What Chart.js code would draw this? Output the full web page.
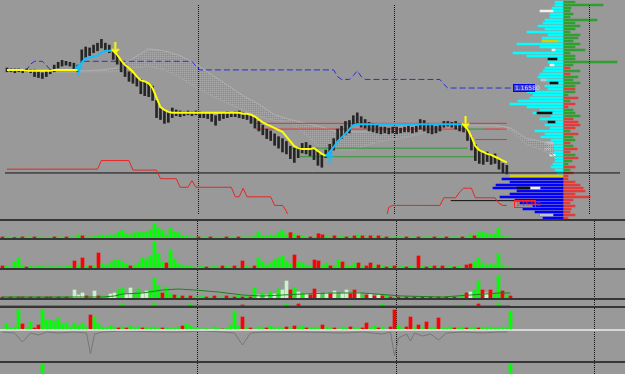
<!DOCTYPE html>
<html>
<head>
<meta charset="utf-8">
<script src="https://cdn.jsdelivr.net/npm/chart.js@4.4.1/dist/chart.umd.min.js"></script>
<style>
  html, body { margin: 0; padding: 0; background: #999; }
  #wrap { position: relative; width: 625px; height: 374px; background: #999999; overflow: hidden; }
  #wrap canvas { position: absolute; left: 0; }
  .sep { position: absolute; left: 0; width: 625px; height: 2px; background: #363636; }
</style>
</head>
<body>
<div id="wrap">
  <canvas id="profile" width="155" height="220" style="left:470px; top:0px"></canvas>
  <canvas id="main" width="625" height="219" style="top:0px"></canvas>
  <div class="sep" style="top:219px"></div>
  <canvas id="vol1" width="625" height="17" style="top:221px"></canvas>
  <div class="sep" style="top:238px"></div>
  <canvas id="vol2" width="625" height="28" style="top:240px"></canvas>
  <div class="sep" style="top:268px"></div>
  <canvas id="vol3" width="625" height="28" style="top:270px"></canvas>
  <div class="sep" style="top:298px"></div>
  <canvas id="vol4" width="625" height="6" style="top:300px"></canvas>
  <div class="sep" style="top:306px"></div>
  <canvas id="osc" width="625" height="53" style="top:308px"></canvas>
  <div class="sep" style="top:361px"></div>
  <canvas id="spikes" width="625" height="11" style="top:363px"></canvas>
</div>
<script>
    // ---- price data, one entry per bar ----
    const highs = [1.1679,1.1678,1.1678,1.1678,1.1677,1.1678,1.1677,1.1677,1.1675,1.1674,
        1.1676,1.1677,1.1682,1.1685,1.1687,1.1686,1.1685,1.1684,1.1682,1.1698,
        1.1701,1.1700,1.1703,1.1705,1.1709,1.1705,1.1703,1.1698,1.1693,1.1687,
        1.1683,1.1675,1.1673,1.1670,1.1667,1.1665,1.1662,1.1660,1.1645,1.1637,
        1.1635,1.1633,1.1637,1.1635,1.1634,1.1633,1.1634,1.1633,1.1634,1.1633,
        1.1632,1.1631,1.1631,1.1629,1.1631,1.1632,1.1633,1.1632,1.1633,1.1634,
        1.1632,1.1631,1.1629,1.1627,1.1623,1.1619,1.1615,1.1613,1.1610,1.1607,
        1.1605,1.1602,1.1597,1.1595,1.1596,1.1600,1.1601,1.1598,1.1595,1.1591,
        1.1588,1.1593,1.1599,1.1605,1.1615,1.1618,1.1623,1.1624,1.1629,1.1632,
        1.1628,1.1625,1.1622,1.1621,1.1619,1.1617,1.1617,1.1616,1.1617,1.1617,
        1.1616,1.1617,1.1618,1.1617,1.1618,1.1625,1.1624,1.1621,1.1619,1.1618,
        1.1620,1.1623,1.1623,1.1622,1.1623,1.1621,1.1619,1.1615,1.1607,1.1599,
        1.1593,1.1590,1.1591,1.1588,1.1589,1.1583,1.1579,1.1577];
    const lows = [1.1675,1.1675,1.1674,1.1675,1.1674,1.1675,1.1674,1.1670,1.1669,1.1668,
        1.1670,1.1673,1.1675,1.1679,1.1681,1.1682,1.1681,1.1678,1.1675,1.1685,
        1.1690,1.1692,1.1695,1.1697,1.1700,1.1697,1.1695,1.1688,1.1683,1.1675,
        1.1670,1.1665,1.1663,1.1660,1.1652,1.1650,1.1649,1.1645,1.1627,1.1625,
        1.1621,1.1622,1.1627,1.1629,1.1628,1.1629,1.1630,1.1629,1.1630,1.1627,
        1.1627,1.1626,1.1623,1.1619,1.1624,1.1626,1.1627,1.1628,1.1628,1.1627,
        1.1626,1.1625,1.1621,1.1616,1.1613,1.1609,1.1605,1.1603,1.1598,1.1595,
        1.1591,1.1589,1.1584,1.1580,1.1585,1.1590,1.1589,1.1587,1.1583,1.1577,
        1.1575,1.1585,1.1588,1.1593,1.1602,1.1605,1.1609,1.1611,1.1619,1.1621,
        1.1617,1.1616,1.1613,1.1612,1.1611,1.1610,1.1611,1.1610,1.1611,1.1610,
        1.1611,1.1612,1.1612,1.1611,1.1612,1.1615,1.1613,1.1611,1.1610,1.1611,
        1.1613,1.1617,1.1618,1.1617,1.1615,1.1613,1.1612,1.1603,1.1593,1.1582,
        1.1579,1.1578,1.1581,1.1578,1.1579,1.1573,1.1569,1.1568];

    // trend line (yellow = down, cyan = up)
    const trendLine = [1.1677,1.1677,1.1677,1.1677,1.1677,
        1.1676,1.1676,1.1676,1.1676,1.1676,1.1676,1.1676,
        1.1677,1.1677,1.1677,1.1677,1.1677,1.1677,1.1677,
        1.1685,1.1689,1.1690,1.1691,1.1692,1.1695,1.1697,1.1697,1.1697,
        1.1693,1.1687,1.1682,1.1679,1.1675,1.1670,1.1666,1.1665,1.1663,1.1658,1.1648,1.1638,1.1635,1.1633,
        1.1632,1.1632,1.1632,1.1632,1.1632,1.1632,1.1632,1.1632,1.1632,1.1632,1.1632,1.1632,1.1632,1.1632,1.1632,1.1632,1.1632,1.1632,
        1.1631,1.1631,1.1630,1.1628,1.1625,1.1622,1.1620,1.1618,1.1616,1.1614,1.1612,1.1607,1.1602,1.1597,1.1595,1.1594,1.1594,1.1594,1.1595,1.1592,1.1589,1.1587,
        1.1591,1.1596,1.1602,1.1606,1.1610,1.1615,1.1619,
        1.1620,1.1620,1.1620,1.1620,1.1620,1.1620,1.1620,1.1620,1.1620,1.1620,1.1620,1.1620,1.1620,1.1620,
        1.1620,1.1620,1.1620,1.1620,1.1620,1.1620,1.1620,1.1620,1.1620,1.1620,1.1620,1.1620,1.1620,1.1620,
        1.1615,1.1607,1.1597,1.1593,1.1591,1.1589,1.1588,1.1586,1.1584,1.1582,1.1580];
    const trendUpFrom = [18, 81];
    const trendUpTo = [27, 116];

    const arrowUpBars = [18.25, 82];
    const arrowUpPrice = [1.1677, 1.1585];
    const arrowDownBars = [27.5, 116.5];
    const arrowDownPrice = [1.1700, 1.1622];

    // blue dashed level line
    const blueLine = [1.1677,1.1677,1.1677,1.1677,1.1677,1.1677,1.1683,1.1686,1.1686,1.1686,
        1.1682,1.1677,1.1677,1.1677,1.1677,1.1677,1.1677,1.1677,1.1677,
        1.1686,1.1686,1.1686,1.1686,1.1686,1.1686,1.1686,1.1686,1.1686,1.1686,
        1.1686,1.1686,1.1686,1.1686,1.1686,1.1686,1.1686,1.1686,1.1686,1.1686,
        1.1686,1.1686,1.1686,1.1686,1.1686,1.1686,1.1686,1.1686,1.1686,
        1.1681,
        1.1677,1.1677,1.1677,1.1677,1.1677,1.1677,1.1677,1.1677,1.1677,1.1677,
        1.1677,1.1677,1.1677,1.1677,1.1677,1.1677,1.1677,1.1677,1.1677,1.1677,
        1.1677,1.1677,1.1677,1.1677,1.1677,1.1677,1.1677,1.1677,1.1677,1.1677,
        1.1677,1.1677,1.1677,1.1677,1.1677,
        1.1670,1.1667,1.1667,1.1667,1.1671,1.1676,1.1670,
        1.1667,1.1667,1.1667,1.1667,1.1667,1.1667,1.1667,1.1667,1.1667,1.1667,
        1.1667,1.1667,1.1667,1.1667,1.1667,1.1667,1.1667,1.1667,1.1667,1.1667,
        1.1662,
        1.1658,1.1658,1.1658,1.1658,1.1658,1.1658,1.1658,1.1658,1.1658,1.1658,
        1.1658,1.1658,1.1658,1.1658,1.1658,1.1658,1.1658];

    // cloud (shifted forward past the last bar)
    const cloudBars = [0,16,20,24,28,32,36,40,44,48,52,56,60,64,68,72,76,80,84,88,92,96,100,104,108,112,116,120,124,128,132,136,139];
    const cloudTop = [1.1676,1.1676,1.1676,1.1677,1.1679,1.1689,1.1699,1.1697,1.1692,1.1683,1.1672,1.1661,1.1650,1.1641,1.1630,1.1625,
        1.1621,1.1617,1.1612,1.1612,1.1612,1.1612,1.1617,1.1618,1.1618,1.1618,1.1619,1.1619,1.1619,1.1616,1.1605,1.1602,1.1598];
    const cloudBottom = [1.1674,1.1674,1.1675,1.1675,1.1675,1.1679,1.1681,1.1677,1.1669,1.1659,1.1650,1.1642,1.1635,1.1628,1.1624,1.1622,
        1.1609,1.1595,1.1593,1.1593,1.1599,1.1603,1.1605,1.1609,1.1614,1.1616,1.1617,1.1617,1.1617,1.1614,1.1599,1.1593,1.1587];

    // stepped red line under price
    const redStep = [1.1573,1.1573,1.1573,1.1573,1.1573,1.1573,1.1573,1.1573,1.1573,1.1573,1.1573,1.1573,
        1.1573,1.1573,1.1573,1.1573,1.1573,1.1573,1.1573,1.1573,1.1573,1.1573,1.1573,1.1573,
        1.1582,1.1582,1.1582,1.1582,1.1582,1.1582,1.1582,1.1582,
        1.1572,1.1572,1.1572,1.1572,1.1572,1.1572,1.1572,
        1.1563,1.1563,1.1563,1.1563,1.1563,
        1.1554,1.1554,1.1554,1.1561,
        1.1554,1.1554,1.1554,1.1554,1.1554,1.1554,1.1554,1.1554,1.1554,1.1554,
        1.1544,1.1544,1.1553,1.1544,1.1544,1.1544,1.1544,1.1544,1.1544,1.1544,
        1.1535,1.1535,1.1535,1.1529,
        1.1515,1.1515,1.1515,1.1515,1.1515,1.1515,1.1515,1.1515,1.1515,1.1515,1.1515,1.1515,1.1515,
        1.1515,1.1515,1.1515,1.1515,1.1515,1.1515,1.1515,1.1515,1.1515,1.1515,1.1515,1.1515,
        1.1533,
        1.1535,1.1535,1.1535,1.1535,1.1535,1.1535,1.1535,1.1535,1.1535,1.1535,1.1535,1.1535,1.1535,
        1.1543,1.1543,1.1543,1.1543,1.1549,1.1553,1.1553,1.1553,
        1.1543,1.1543,1.1543,1.1543,1.1543,1.1543,1.1537,1.1535,1.1535];

    // horizontal levels: price, from bar, to bar, colour code
    const levelPrice = [1.1621, 1.1615, 1.1615, 1.1615, 1.1604, 1.1595, 1.1586, 1.1569, 1.1540];
    const levelFrom  = [63.75, 63.75, 117.5, 121.75, 119.5, 72.5, 75, 0, 113.25];
    const levelTo    = [127.5, 117.5, 121.75, 127.5, 127.5, 117.5, 119.25, 156.25, 135];
    const levelCodes = 'rrgrrggkk';

    const tagBars = [129, 129.25];
    const tagPrices = [1.1658, 1.1536];

    // day separators (bar position)
    const sessionBreaks = [49.25, 99, 148.5];

    // ---- sub window histograms ----
    const vol1 = [1,1,1,0.5,1,1,1,1,1,1, 1,0.5,1,1,1,1,1,1,1,3, 2,1,1,2,2,3,2,3,3,6, 7,4,3,5,6,5,6,8,14,9,
        7,3,10,6,5,2,2,1,1,1, 1,1,1,1,0.5,1,1,1,1,1, 1,1,1,2,6,2,2,3,2,5, 7,3,5,4,2,2,1,1,1,4,
        3,2,1,2,1,2,1,1,2,3, 2,1,2,1,2,1,1,1,1,1, 1,1,1,1,1,1,1,1,1,1, 1,1,1,1,1,1,1,3,2,5, 6,4,3,4,9,2,1,1];
    const vol1Codes = 'rggrgrggrg' + 'gggrggrggg' + 'rggggggggg' + 'gggggggggg' + 'gggggggggr' + 'ggrgggrggr' +
        'gggggggggg' + 'ggrgrggrgr' + 'rggrggrgrg' + 'rgrgrgrggg' + 'grggrgggrg' + 'grgggrggrg' + 'gggggggg';

    const vol2 = [2,2,1,6,10,3,1,2,1,2, 2,1,2,1,2,1,2,2,7,3, 10,2,2,2,15,4,3,5,8,8, 6,4,2,3,5,10,9,12,26,14,
        6,5,18,9,4,3,2,2,1,1, 2,1,1,2,1,2,2,1,2,1, 7,2,1,2,10,6,3,5,8,10, 12,7,4,13,6,5,3,2,8,7,
        3,5,2,2,8,6,3,2,5,5, 2,2,5,2,3,2,1,2,2,1, 2,1,2,1,12,2,1,2,2,1, 2,1,2,1,2,1,3,4,6,10, 5,3,4,3,14,3,1,1];
    const vol2Codes = 'rgggggrggg' + 'ggggggggrg' + 'rgrgrggggg' + 'ggrggggggg' + 'grgggggggg' + 'grgggrggrg' +
        'rggrgggggg' + 'gggrggggrr' + 'ggrggrgggr' + 'grrgrgrgrg' + 'grggrgrgrg' + 'rggrggrrgg' + 'gggggggg';

    const vol3 = [1,1,1,1,1,1,1,1,1,1, 1,1,1,1,1,1,1,1,8,3, 5,2,1,7,2,2,1,4,5,8, 10,4,10,4,9,5,7,8,20,12,
        5,11,4,3,2,2,1,2,1,1, 2,1,1,2,1,1,2,1,1,2, 1,2,1,10,3,5,3,6,4,9, 8,17,8,10,6,5,4,3,9,5,
        3,5,4,7,3,5,8,4,8,5, 3,3,4,2,3,2,2,1,1,1, 1,1,1,1,1,1,1,1,1,1, 1,1,1,1,1,3,5,6,8,17, 8,5,8,4,22,7,3,2];
    const vol3Codes = 'rgrgrrgrgr' + 'grrgrgrgpp' + 'prgprggppg' + 'gppggppggg' + 'rggrgrgrgg' + 'grgrggrgrg' +
        'rgrgpgpgpg' + 'pprgpgprrp' + 'gprpgpprrp' + 'grprprgrgr' + 'grgrgrgrgr' + 'grgrggrpgg' + 'rprggrgr';
    const vol3AvgBars = [0, 25, 28, 30, 35, 40, 44, 48, 54, 60, 65, 70, 75, 82, 90, 100, 110, 117, 124, 127];
    const vol3Avg = [1, 1, 2, 4, 5, 8, 9, 8, 6, 3, 2, 3, 4, 5, 5, 2, 1, 3, 5, 5];

    const vol4Bars = [30, 38, 47, 60, 71, 74, 87, 95, 114, 119, 124];
    const vol4 = [2, 3, 2, 1, 2, 2, 1, 2, 1, 2, 3];
    const vol4Codes = 'gggrgrgggrg';

    const osc = [1,6,2,3,20,6,2,8,2,5, 20,10,10,9,12,6,7,3,7,4, 7,3,15,13,6,3,2,4,3,2, 3,2,4,2,3,2,3,2,3,2,
        2,2,2,2,3,4,6,4,2,2, 1,2,1,3,2,1,2,5,19,4, 13,3,2,1,3,2,2,4,2,3, 2,3,2,4,3,4,2,2,3,2,
        5,3,2,2,1,3,2,3,2,2, 2,7,2,4,2,3,1,3,20,4, 2,3,13,3,5,3,8,2,3,12, 2,2,3,2,2,3,2,2,3,2, 3,2,3,2,2,3,2,19];
    const oscCodes = 'gggggrggrr' + 'gggggggggg' + 'ggrggggggr' + 'grgggrgggg' + 'rggggrgggg' + 'gggggrgggg' +
        'rgrgggrggg' + 'grgrggrggg' + 'rggrgggrgg' + 'rrggrggrrg' + 'grrgrgrggr' + 'gggrggrggr' + 'gggggggg';
    const oscLineBars = [0,3,5,7,9,11,14,18,21,22,23,25,30,40,45,50,55,58,60,62,65,75,85,90,95,97,98,99,101,102,103,105,107,109,111,115,120,124,126,127];
    const oscLine = [-2,-3,-12,-3,-5,-2,-3,-2,-3,-24,-4,-2,-1,-2,-2,-1,-2,-3,-15,-3,-2,-2,-3,-2,-4,-2,-26,-8,-4,-11,-3,-6,-4,-10,-3,-2,-3,-2,-2,2];

    const spikeBars = [10, 127];
    const spikes = [11, 11];

    // ---- volume profile on the right ----
    const profLevels = [1.1743,1.1740,1.1737,1.1734,1.1731,1.1728,1.1725,1.1722,1.1719,1.1716,
        1.1713,1.1710,1.1707,1.1704,1.1701,1.1698,1.1695,1.1692,1.1689,1.1686,
        1.1683,1.1680,1.1677,1.1674,1.1671,1.1668,1.1665,1.1662,1.1659,1.1656,
        1.1653,1.1650,1.1647,1.1644,1.1641,1.1638,1.1635,1.1632,1.1629,1.1626,
        1.1623,1.1620,1.1617,1.1614,1.1611,1.1608,1.1605,1.1602,1.1599,1.1596,
        1.1593,1.1590,1.1587,1.1584,1.1581,1.1578,1.1575,1.1572,1.1569,1.1566,
        1.1563,1.1560,1.1557,1.1554,1.1551,1.1548,1.1545,1.1542,1.1539,1.1536,
        1.1533,1.1530,1.1527];
    const profLeft = [8,8,11,10,13,13,18,20,25,18, 36,15,21,21,46,23,11,50,36,15, 15,13,18,20,23,25,22,13,18,15,
        36,30,33,45,53,36,23,30,12,23, 15,18,13,28,18,22,12,18,15,18, 13,13,8,8,10,12,8,6,53,61,
        53,67,70,46,53,63,48,43,30,40, 28,23,20];
    const profLeftCodes = 'cccccccccc' + 'cccccccccc' + 'cccccccccc' + 'cccccccccc' + 'cccccccccc' + 'cccccccc' + 'y' + 'bbbbbbbbbbbbbb';
    const profRight = [12,40,8,7,10,7,34,12,17,12, 7,17,15,10,17,12,22,7,12,12, 54,10,7,17,7,15,10,17,12,12,
        12,5,15,7,12,5,10,12,17,10, 15,17,12,7,15,10,12,7,10,14, 7,12,15,9,5,12,7,10,5,5,
        12,17,20,22,12,27,10,7,12,8, 7,12,5];
    const profRightCodes = 'gggggggggg' + 'gggggggggg' + 'ggrgrggggr' + 'ggrgrrgggr' + 'rrrgrggrgr' + 'rgrggrgrrr' + 'rrrrrrrrrr' + 'rrr';
    const profAccentRows = [3, 13, 16, 19, 21, 26, 27, 37, 40, 47, 49, 51, 62, 62, 71];
    const profAccentFrom = [10, 5, 8, 6, 9, 17, 5, 11, 8, 10, 12, 8, 33, 23, 10];
    const profAccentTo   = [23, 21, 11, 15, 13, 22, 13, 26, 15, 18, 18, 13, 46, 33, 23];
    const profAccentCodes = 'wywkwekkkeewkwe';

    // ---- styles ----
    const histColors = { g: '#00ff00', r: '#ff0000', p: '#c8f5c8' };
    const levelColors = { r: '#e83030', g: '#2e9a2e', k: '#111111' };
    const profColors = { c: '#00ffff', y: '#d8d000', b: '#0000ff', g: '#2f9f2f', r: '#e03c3c',
        w: '#f0f0f0', e: '#c4c4c4', k: '#101010' };

    const X_MIN = 0, X_MAX = 156.25;
    const P_MIN = 1.1526, P_MAX = 1.1745;

    const sessionLines = {
        id: 'sessionLines',
        beforeDatasetsDraw(chart) {
            const {ctx, chartArea, scales: {x}} = chart;
            ctx.save();
            ctx.strokeStyle = '#111';
            ctx.lineWidth = 1;
            ctx.setLineDash([1, 1]);
            sessionBreaks.forEach(b => {
                const px = Math.floor(x.getPixelForValue(b)) + 0.5;
                ctx.beginPath();
                ctx.moveTo(px, chartArea.top);
                ctx.lineTo(px, chartArea.bottom);
                ctx.stroke();
            });
            ctx.restore();
        }
    };

    const priceTags = {
        id: 'priceTags',
        afterDatasetsDraw(chart) {
            const {ctx, scales: {x, y}} = chart;
            const fills = ['#3c3cd8', 'rgba(0,0,0,0)'];
            const borders = ['#0000ff', '#ff2020'];
            const inks = ['#dcdcff', '#ff2020'];
            ctx.save();
            ctx.font = '6px "DejaVu Sans"';
            ctx.textBaseline = 'middle';
            tagBars.forEach((b, j) => {
                const left = Math.round(x.getPixelForValue(b)) + 0.5;
                const mid = Math.round(y.getPixelForValue(tagPrices[j]));
                ctx.fillStyle = fills[j];
                ctx.fillRect(left, mid - 3.5, 21, 7);
                ctx.strokeStyle = borders[j];
                ctx.strokeRect(left, mid - 3.5, 21, 7);
                ctx.fillStyle = inks[j];
                ctx.fillText(tagPrices[j].toFixed(5), left + 1.5, mid);
            });
            ctx.restore();
        }
    };

    // shift lets 3px histogram bars land on whole pixels
    function baseOptions(yMin, yMax, shift) {
        const s = shift || 0;
        return {
            responsive: false,
            animation: false,
            layout: { padding: 0 },
            plugins: { legend: { display: false }, tooltip: { enabled: false } },
            scales: {
                x: { type: 'linear', min: X_MIN - s, max: X_MAX - s, display: false, offset: false },
                y: { type: 'linear', min: yMin, max: yMax, display: false }
            }
        };
    }

    function arrowImage(color, up) {
        const c = document.createElement('canvas');
        c.width = 9; c.height = 12;
        const g = c.getContext('2d');
        g.strokeStyle = color;
        g.lineWidth = 2;
        g.beginPath();
        if (up) {
            g.moveTo(4.5, 1); g.lineTo(4.5, 12);
            g.moveTo(1, 5); g.lineTo(4.5, 1.5); g.lineTo(8, 5);
        } else {
            g.moveTo(4.5, 0); g.lineTo(4.5, 11);
            g.moveTo(1, 7); g.lineTo(4.5, 10.5); g.lineTo(8, 7);
        }
        g.stroke();
        return c;
    }

    function cloudPattern() {
        const c = document.createElement('canvas');
        c.width = 2; c.height = 2;
        const g = c.getContext('2d');
        g.fillStyle = '#a9a9a9'; g.fillRect(0, 0, 1, 1);
        g.fillStyle = '#8e8e8e'; g.fillRect(1, 1, 1, 1);
        return g.createPattern(c, 'repeat');
    }

    // ---- main price window ----
    const inUp = i => trendUpFrom.some((f, j) => i >= f && i <= trendUpTo[j]);
    const onEdge = i => trendUpFrom.includes(i) || trendUpTo.includes(i);

    const mainSets = [
        { type: 'line', order: 10, data: cloudBars.map((b, k) => ({x: b + 0.5, y: cloudTop[k]})),
          borderColor: '#b0b0b0', borderWidth: 1, pointRadius: 0 },
        { type: 'line', order: 10, data: cloudBars.map((b, k) => ({x: b + 0.5, y: cloudBottom[k]})),
          borderColor: '#a4a4a4', borderWidth: 1, pointRadius: 0, fill: '-1', backgroundColor: cloudPattern() },
        { type: 'line', order: 7, data: blueLine.map((v, i) => ({x: i + 0.5, y: v})),
          borderColor: '#2b2bd8', borderWidth: 1, borderDash: [6, 3], pointRadius: 0 },
        { type: 'line', order: 6, data: redStep.map((v, i) => ({x: i + 0.5, y: v})),
          borderColor: '#e52525', borderWidth: 1, pointRadius: 0 },
        { type: 'bar', order: 5, data: highs.map((h, i) => ({x: i + 0.5, y: [lows[i], h]})),
          backgroundColor: '#262626', barThickness: 2, grouped: false },
        { type: 'line', order: 3, data: trendLine.map((v, i) => ({x: i + 0.5, y: (!inUp(i) || onEdge(i)) ? v : null})),
          borderColor: '#ffff00', borderWidth: 2, pointRadius: 0 },
        { type: 'line', order: 3, data: trendLine.map((v, i) => ({x: i + 0.5, y: inUp(i) ? v : null})),
          borderColor: '#10c0ff', borderWidth: 2, pointRadius: 0 },
        { type: 'line', order: 1, showLine: false, data: arrowUpBars.map((b, k) => ({x: b + 0.5, y: arrowUpPrice[k]})),
          pointStyle: arrowImage('#10c0ff', true) },
        { type: 'line', order: 1, showLine: false, data: arrowDownBars.map((b, k) => ({x: b + 0.5, y: arrowDownPrice[k]})),
          pointStyle: arrowImage('#ffff00', false) }
    ];
    levelPrice.forEach((p, j) => {
        mainSets.push({ type: 'line', order: 8, data: [{x: levelFrom[j], y: p}, {x: levelTo[j], y: p}],
            borderColor: levelColors[levelCodes[j]], borderWidth: 1, pointRadius: 0 });
    });

    new Chart(document.getElementById('main'), {
        type: 'bar',
        data: { datasets: mainSets },
        options: baseOptions(P_MIN, P_MAX),
        plugins: [sessionLines, priceTags]
    });

    // ---- profile overlay (horizontal bars, one row per price level) ----
    const profLabels = profLevels.map(p => p.toFixed(4));
    const profSets = [
        { data: profLeft.map(v => -v), backgroundColor: profLeftCodes.split('').map(c => profColors[c]),
          barThickness: 2, grouped: false, order: 3 },
        { data: profRight, backgroundColor: profRightCodes.split('').map(c => profColors[c]),
          barThickness: 2, grouped: false, order: 3 }
    ];
    profAccentRows.forEach((r, j) => {
        const row = profLabels.map(() => null);
        row[r] = [-profAccentTo[j], -profAccentFrom[j]];
        profSets.push({ data: row, backgroundColor: profColors[profAccentCodes[j]],
            barThickness: 2, grouped: false, order: 1 });
    });

    new Chart(document.getElementById('profile'), {
        type: 'bar',
        data: { labels: profLabels, datasets: profSets },
        options: {
            indexAxis: 'y',
            responsive: false,
            animation: false,
            layout: { padding: { top: 0.5, bottom: 0.5, left: 0, right: 0 } },
            plugins: { legend: { display: false }, tooltip: { enabled: false } },
            scales: {
                x: { type: 'linear', min: -93, max: 62, display: false },
                y: { type: 'category', display: false, offset: true }
            }
        }
    });

    // ---- histogram windows ----
    function histSet(bars, vols, codes, order) {
        return { type: 'bar', order: order, data: vols.map((v, k) => ({x: bars[k] + 0.5, y: v})),
            backgroundColor: codes.split('').map(c => histColors[c]), barThickness: 3, grouped: false };
    }
    const allBars = highs.map((h, i) => i);
    const HALF_PX = 0.125;

    new Chart(document.getElementById('vol1'), {
        type: 'bar',
        data: { datasets: [histSet(allBars, vol1, vol1Codes, 2)] },
        options: baseOptions(0, 16, HALF_PX),
        plugins: [sessionLines]
    });

    new Chart(document.getElementById('vol2'), {
        type: 'bar',
        data: { datasets: [histSet(allBars, vol2, vol2Codes, 2)] },
        options: baseOptions(0, 28, HALF_PX),
        plugins: [sessionLines]
    });

    new Chart(document.getElementById('vol3'), {
        type: 'bar',
        data: { datasets: [
            { type: 'line', order: 1, data: vol3AvgBars.map((b, k) => ({x: b + 0.5, y: vol3Avg[k]})),
              borderColor: '#1f7f1f', borderWidth: 1, pointRadius: 0 },
            histSet(allBars, vol3, vol3Codes, 2)
        ]},
        options: baseOptions(0, 28, HALF_PX),
        plugins: [sessionLines]
    });

    new Chart(document.getElementById('vol4'), {
        type: 'bar',
        data: { datasets: [
            { type: 'line', order: 1, data: [{x: 0, y: 0.5}, {x: 127.5, y: 0.5}],
              borderColor: '#ff0000', borderWidth: 1, borderDash: [1, 1], pointRadius: 0 },
            histSet(vol4Bars, vol4, vol4Codes, 2)
        ]},
        options: baseOptions(0, 6, HALF_PX),
        plugins: [sessionLines]
    });

    new Chart(document.getElementById('osc'), {
        type: 'bar',
        data: { datasets: [
            { type: 'line', order: 1, data: [{x: X_MIN - 1, y: 0}, {x: X_MAX + 1, y: 0}],
              borderColor: '#d8d8d8', borderWidth: 2, pointRadius: 0 },
            { type: 'line', order: 3, data: oscLineBars.map((b, k) => ({x: b + 0.5, y: oscLine[k]})),
              borderColor: '#777777', borderWidth: 1, pointRadius: 0 },
            histSet(allBars, osc, oscCodes, 2)
        ]},
        options: baseOptions(-31, 22, HALF_PX),
        plugins: [sessionLines]
    });

    new Chart(document.getElementById('spikes'), {
        type: 'bar',
        data: { datasets: [histSet(spikeBars, spikes, 'gg', 1)] },
        options: baseOptions(0, 11, HALF_PX),
        plugins: [sessionLines]
    });
</script>
</body>
</html>
